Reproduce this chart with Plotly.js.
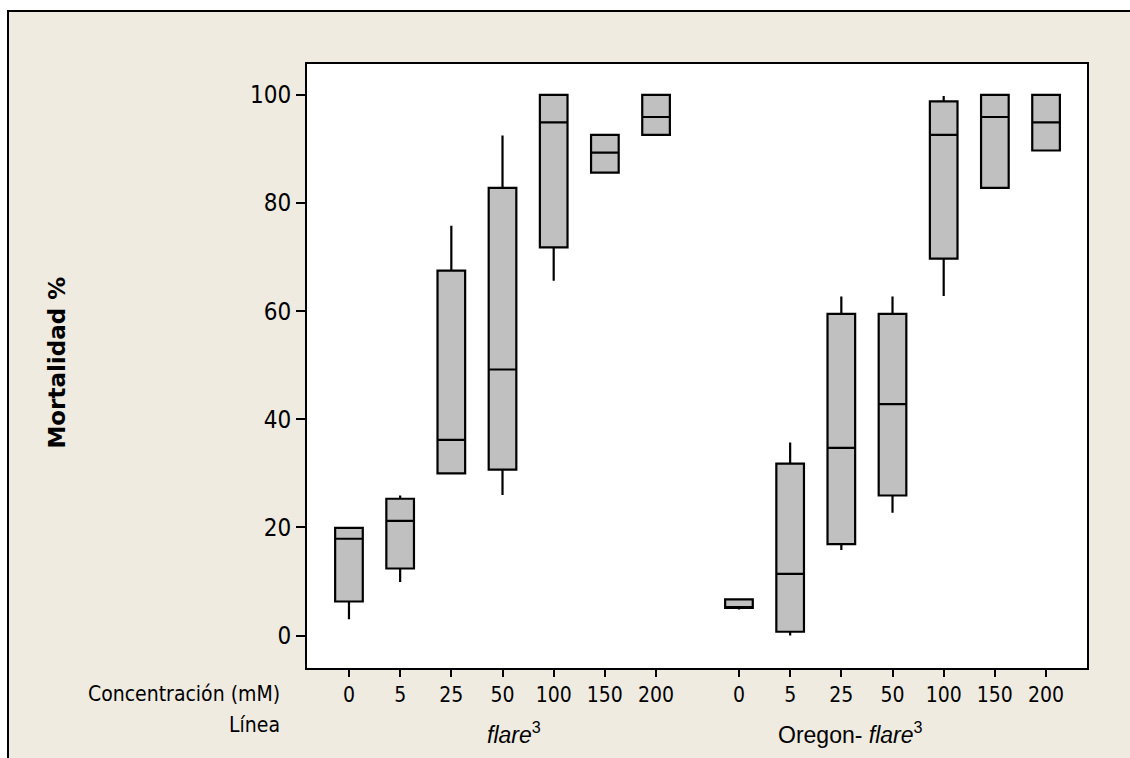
<!DOCTYPE html>
<html>
<head>
<meta charset="utf-8">
<script src="https://cdn.plot.ly/plotly-3.0.1.min.js"></script>
<style>
  html, body { margin:0; padding:0; background:#ffffff; width:1130px; height:758px; overflow:hidden; }
  #frame { position:absolute; left:7px; top:10px; border-top:2px solid #000; border-left:2px solid #000; }
  #chart { width:1121px; height:746px; }
</style>
</head>
<body>
<div id="frame"><div id="chart"></div></div>
<script>
// Tick labels: concentration (mM)
const concentrations = ['0', '5', '25', '50', '100', '150', '200'];
// Group (line) labels
const lines = ['<i>flare</i><sup>3</sup>', 'Oregon- <i>flare</i><sup>3</sup>'];

// flare3 – box statistics (Mortalidad %)
const flareLow    = [3.0, 9.9, 30.0, 26.0, 65.6, 85.6, 92.6];
const flareQ1     = [6.3, 12.4, 30.0, 30.7, 71.8, 85.6, 92.6];
const flareMedian = [17.9, 21.2, 36.2, 49.2, 94.9, 89.3, 95.9];
const flareQ3     = [19.9, 25.3, 67.5, 82.8, 100, 92.6, 100];
const flareHigh   = [19.9, 25.9, 75.8, 92.5, 100, 92.6, 100];

// Oregon-flare3 – box statistics (Mortalidad %)
const oregonLow    = [4.8, 0.0, 15.8, 22.7, 62.8, 82.8, 89.7];
const oregonQ1     = [5.1, 0.7, 16.9, 25.9, 69.7, 82.8, 89.7];
const oregonMedian = [5.2, 11.4, 34.7, 42.8, 92.6, 95.9, 94.9];
const oregonQ3     = [6.7, 31.8, 59.5, 59.5, 98.8, 100, 100];
const oregonHigh   = [6.7, 35.7, 62.7, 62.7, 99.8, 100, 100];

// layout: positions of the categories on a shared numeric axis
const GROUP_OFFSET = 7.62;
const pos1 = concentrations.map((c, i) => i);
const pos2 = concentrations.map((c, i) => i + GROUP_OFFSET);

const boxStyle = {
  type: 'box',
  fillcolor: '#C0C0C0',
  line: { color: '#000000', width: 2.2 },
  whiskerwidth: 0,
  width: 0.54,
  boxpoints: false,
  showlegend: false,
  hoverinfo: 'skip'
};

const traces = [
  Object.assign({}, boxStyle, {
    name: 'flare3', x: pos1,
    lowerfence: flareLow, q1: flareQ1, median: flareMedian, q3: flareQ3, upperfence: flareHigh
  }),
  Object.assign({}, boxStyle, {
    name: 'Oregon-flare3', x: pos2,
    lowerfence: oregonLow, q1: oregonQ1, median: oregonMedian, q3: oregonQ3, upperfence: oregonHigh
  })
];

const condFont = 'DejaVu Sans Condensed, DejaVu Sans, sans-serif';
const labelFont = { family: condFont, size: 21, color: '#000' };
const groupFont = { family: 'Liberation Sans, Arial, sans-serif', size: 23, color: '#000' };

const layout = {
  width: 1121, height: 746,
  paper_bgcolor: '#EFEBE1',
  plot_bgcolor: '#FFFFFF',
  margin: { l: 298, r: 43, t: 52, b: 90, pad: 0 },
  xaxis: {
    type: 'linear',
    range: [-0.82, 14.42],
    tickvals: pos1.concat(pos2),
    ticktext: concentrations.concat(concentrations),
    ticks: 'outside', ticklen: 7, tickwidth: 2, tickcolor: '#000',
    tickfont: { family: condFont, size: 21, color: '#000' },
    showline: true, linecolor: '#000', linewidth: 2, mirror: true,
    showgrid: false, zeroline: false, fixedrange: true
  },
  yaxis: {
    range: [-6.0, 105.7],
    tickvals: [0, 20, 40, 60, 80, 100],
    ticks: 'outside', ticklen: 9, tickwidth: 2, tickcolor: '#000',
    tickfont: { family: condFont, size: 24, color: '#000' },
    showline: true, linecolor: '#000', linewidth: 2, mirror: true,
    showgrid: false, zeroline: false, fixedrange: true
  },
  annotations: [
    { text: 'Concentración (mM)', xref: 'paper', yref: 'paper', x: -0.032, y: -0.043,
      xanchor: 'right', yanchor: 'middle', showarrow: false, font: labelFont },
    { text: 'Línea', xref: 'paper', yref: 'paper', x: -0.032, y: -0.094,
      xanchor: 'right', yanchor: 'middle', showarrow: false, font: labelFont },
    { text: lines[0], xref: 'x', yref: 'paper', x: 3.22, y: -0.108,
      xanchor: 'center', yanchor: 'middle', showarrow: false, font: groupFont },
    { text: lines[1], xref: 'x', yref: 'paper', x: 9.79, y: -0.108,
      xanchor: 'center', yanchor: 'middle', showarrow: false, font: groupFont },
    { text: 'Mortalidad %', xref: 'paper', yref: 'paper', x: -0.321, y: 0.505,
      xanchor: 'center', yanchor: 'middle', textangle: -90, showarrow: false,
      font: { family: 'DejaVu Sans, sans-serif', size: 23, color: '#000', weight: 'bold' } }
  ]
};

Plotly.newPlot('chart', traces, layout, { displayModeBar: false, staticPlot: true });
</script>
</body>
</html>
